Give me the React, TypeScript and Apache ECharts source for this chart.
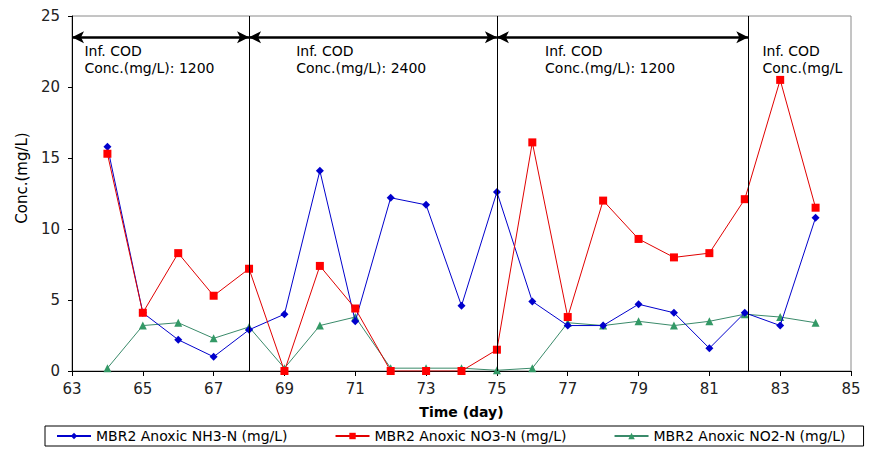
import { useEffect, useRef } from "react";
import * as echarts from "echarts";

const days = [64, 65, 66, 67, 68, 69, 70, 71, 72, 73, 74, 75, 76, 77, 78, 79, 80, 81, 82, 83, 84];
const nh3 = [15.8, 4.1, 2.2, 1.0, 2.9, 4.0, 14.1, 3.5, 12.2, 11.7, 4.6, 12.6, 4.9, 3.2, 3.2, 4.7, 4.1, 1.6, 4.1, 3.2, 10.8];
const no3 = [15.3, 4.1, 8.3, 5.3, 7.2, 0.0, 7.4, 4.4, 0.0, 0.0, 0.0, 1.5, 16.1, 3.8, 12.0, 9.3, 8.0, 8.3, 12.1, 20.5, 11.5];
const no2 = [0.2, 3.2, 3.4, 2.3, 3.1, 0.2, 3.2, 3.8, 0.2, 0.2, 0.2, 0.05, 0.2, 3.4, 3.2, 3.5, 3.2, 3.5, 4.0, 3.8, 3.4];
const xTicks = [63, 65, 67, 69, 71, 73, 75, 77, 79, 81, 83, 85];
const seriesNames = ["MBR2 Anoxic NH3-N (mg/L)", "MBR2 Anoxic NO3-N (mg/L)", "MBR2 Anoxic NO2-N (mg/L)"];
const dividers = [68, 75, 82.1];
const phaseBounds = [63, 68, 75, 82.1, 85.1];
const arrowLevel = 23.5;
const phaseLabels = [
  "Inf. COD\nConc.(mg/L): 1200",
  "Inf. COD\nConc.(mg/L): 2400",
  "Inf. COD\nConc.(mg/L): 1200",
  "Inf. COD\nConc.(mg/L",
];
const phaseLabelX = [63.35, 69.33, 76.36, 82.5];
const phaseLabelY = 23.15;

const FONT = "DejaVu Sans";

export default function App() {
  const ref = useRef<HTMLDivElement>(null);
  useEffect(() => {
    if (!ref.current) return;
    const chart = echarts.init(ref.current, null, { renderer: "svg" });
    const toPts = (vals: number[]) => days.map((d, i) => [d, vals[i]]);
    const arrowData = [];
    for (let i = 0; i < phaseBounds.length - 1; i++) {
      arrowData.push([{ coord: [phaseBounds[i], arrowLevel] }, { coord: [phaseBounds[i + 1], arrowLevel] }]);
    }
    chart.setOption({
      animation: false,
      backgroundColor: "#fff",
      textStyle: { fontFamily: FONT },
      grid: {
        left: 72,
        right: 21,
        top: 16,
        bottom: 81,
        show: true,
        borderColor: "#8a8a8a",
        borderWidth: 1,
      },
      legend: {
        data: seriesNames,
        left: 45,
        top: 426,
        width: 817,
        borderColor: "#000",
        borderWidth: 1,
        borderRadius: 0,
        padding: [3, 18, 3, 11],
        itemGap: 47,
        itemWidth: 34,
        itemHeight: 8,
        textStyle: { fontFamily: FONT, fontSize: 14, color: "#000" },
      },
      xAxis: {
        type: "value",
        min: 63,
        max: 85,
        name: "Time (day)",
        nameLocation: "middle",
        nameGap: 34,
        nameTextStyle: { fontFamily: FONT, fontSize: 14, color: "#000", fontWeight: "bold" },
        axisLine: { lineStyle: { color: "#000", width: 1 } },
        axisTick: { show: true, length: 5, customValues: xTicks, lineStyle: { color: "#000" } },
        axisLabel: { customValues: xTicks, fontSize: 15, color: "#222", margin: 10, fontFamily: FONT },
        splitLine: { show: false },
      },
      yAxis: {
        type: "value",
        min: 0,
        max: 25,
        interval: 5,
        axisLine: { show: true, lineStyle: { color: "#000", width: 1 } },
        axisTick: { show: true, length: 4, lineStyle: { color: "#000" } },
        axisLabel: { fontSize: 15, color: "#222", margin: 12, fontFamily: FONT },
        splitLine: { show: false },
      },
      series: [
        {
          name: "__helper",
          type: "line",
          data: [],
          clip: false,
          silent: true,
          markLine: {
            silent: true,
            symbol: ["none", "none"],
            label: { show: false },
            lineStyle: { color: "#000", width: 1, type: "solid" },
            data: dividers.map((d) => ({ xAxis: d })),
          },
          z: 1,
        },
        {
          name: "__arrows",
          type: "line",
          data: [],
          clip: false,
          silent: true,
          markLine: {
            silent: true,
            symbol: ["arrow", "arrow"],
            symbolSize: [9, 12],
            label: { show: false },
            lineStyle: { color: "#000", width: 2.5, type: "solid" },
            data: arrowData,
          },
          z: 1,
        },
        {
          name: seriesNames[0],
          type: "line",
          data: toPts(nh3),
          symbol: "diamond",
          symbolSize: 8,
          itemStyle: { color: "#0000cc" },
          lineStyle: { color: "#0000cc", width: 1 },
          z: 3,
        },
        {
          name: seriesNames[1],
          type: "line",
          data: toPts(no3),
          symbol: "rect",
          symbolSize: 8,
          itemStyle: { color: "#ff0000" },
          lineStyle: { color: "#e00000", width: 1 },
          z: 4,
        },
        {
          name: seriesNames[2],
          type: "line",
          data: toPts(no2),
          symbol: "triangle",
          symbolSize: 8,
          itemStyle: { color: "#339966" },
          lineStyle: { color: "#3a8a6a", width: 1 },
          z: 2,
        },
      ],
    });

    const graphics: any[] = phaseLabels.map((t, i) => {
      const [px, py] = chart.convertToPixel({ xAxisIndex: 0, yAxisIndex: 0 }, [phaseLabelX[i], phaseLabelY]) as number[];
      return {
        type: "text",
        x: px,
        y: py,
        z: 10,
        style: {
          text: t,
          fontFamily: FONT,
          fontSize: 14,
          lineHeight: 17,
          fill: "#000",
          textAlign: "left",
          textVerticalAlign: "top",
        },
      };
    });
    graphics.push({
      type: "text",
      x: 22,
      y: 178,
      rotation: Math.PI / 2,
      z: 10,
      style: {
        text: "Conc.(mg/L)",
        fontFamily: FONT,
        fontSize: 15,
        fill: "#000",
        textAlign: "center",
        textVerticalAlign: "middle",
      },
    });
    chart.setOption({ graphic: graphics });

    return () => chart.dispose();
  }, []);
  return <div ref={ref} style={{ position: "fixed", left: 0, top: 0, width: 872, height: 452 }} />;
}
